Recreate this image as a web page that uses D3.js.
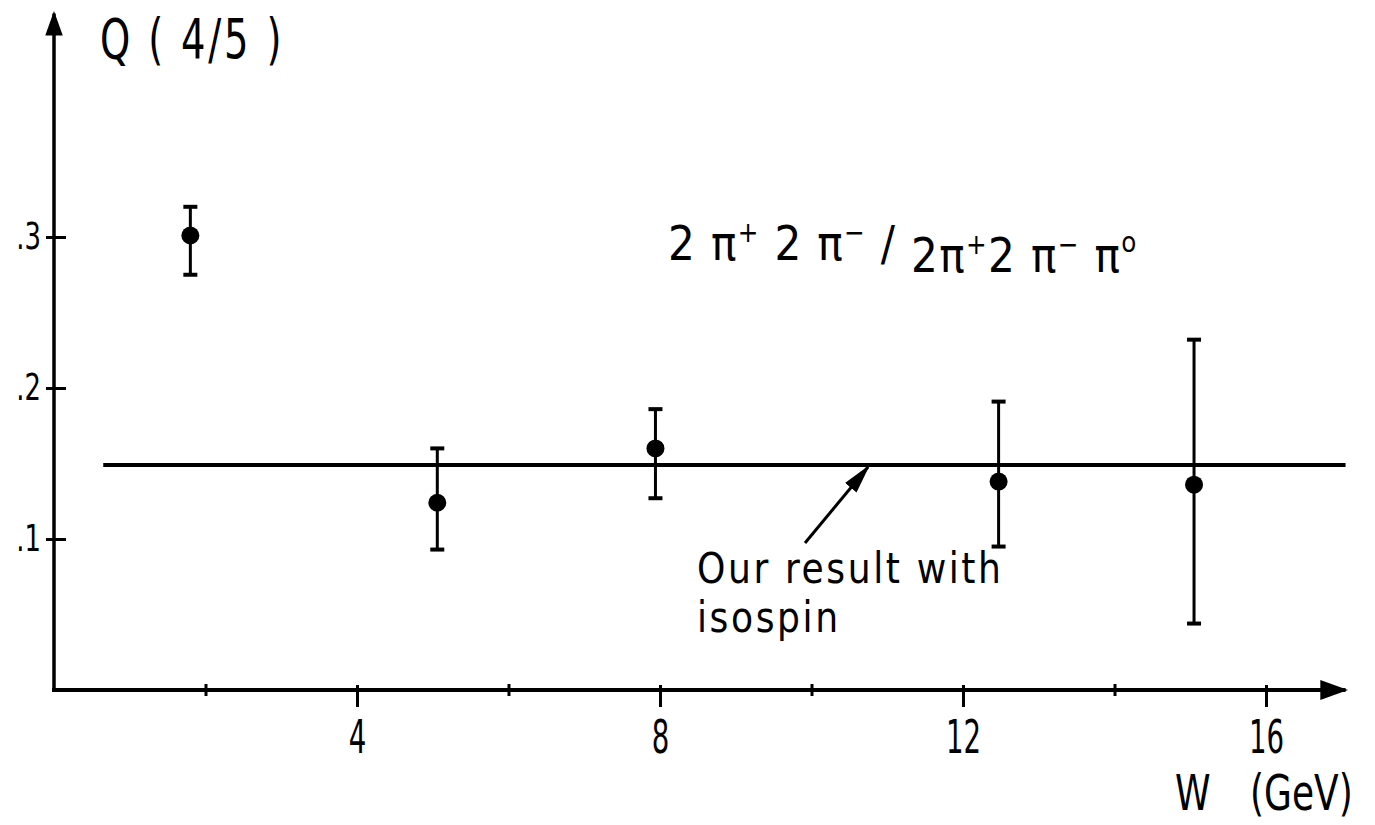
<!DOCTYPE html>
<html>
<head>
<meta charset="utf-8">
<script src="https://cdn.jsdelivr.net/npm/d3@7"></script>
<style>
  body { margin: 0; background: #fff; }
  text { font-family: "DejaVu Sans", sans-serif; fill: #000; }
</style>
</head>
<body>
<div class="chart"></div>
<script>
//Data
var wValues = [1.8, 5.06, 7.94, 12.47, 15.05];
var qValues = [0.301, 0.124, 0.160, 0.138, 0.136];
var qUpper = [0.320, 0.160, 0.186, 0.191, 0.232];
var qLower = [0.275, 0.093, 0.127, 0.095, 0.044];
var fitValue = 0.149;
var fitRange = [0.65, 17.05];
var xTicks = [2, 4, 6, 8, 10, 12, 14, 16];
var xLabels = [4, 8, 12, 16];
var yTicks = [0.1, 0.2, 0.3];
var yLabels = [".1", ".2", ".3"];

var svgWidth = 1375;
var svgHeight = 825;

var svg = d3.select(".chart")
    .append("svg")
    .attr("width", svgWidth)
    .attr("height", svgHeight);

//Scales
var xScale = d3.scaleLinear().domain([0, 16]).range([54, 1266]);
var yScale = d3.scaleLinear().domain([0, 0.3]).range([690, 237]);

//narrow lettering like the stencil text of the original
function addText(x, y, size, sx, str, anchor) {
    return svg.append("text")
        .attr("transform", `translate(${x}, ${y}) scale(${sx}, 1)`)
        .attr("font-size", size)
        .attr("text-anchor", anchor || "start")
        .text(str);
}

//Arrow heads
var defs = svg.append("defs");
function addMarker(id, w, h) {
    defs.append("marker")
        .attr("id", id)
        .attr("viewBox", "0 0 10 10")
        .attr("preserveAspectRatio", "none")
        .attr("refX", 9).attr("refY", 5)
        .attr("markerWidth", w).attr("markerHeight", h)
        .attr("markerUnits", "strokeWidth")
        .attr("orient", "auto")
        .append("path")
        .attr("d", "M0,0 L10,5 L0,10 Z")
        .attr("fill", "#000");
}
addMarker("axisArrow", 7, 5);
addMarker("noteArrow", 10, 5);

//Axis lines with arrows
svg.append("line")
    .attr("x1", xScale(0) - 2).attr("y1", yScale(0))
    .attr("x2", xScale(17.05)).attr("y2", yScale(0))
    .attr("stroke", "#000").attr("stroke-width", 4)
    .attr("marker-end", "url(#axisArrow)");
svg.append("line")
    .attr("x1", xScale(0)).attr("y1", yScale(0) + 2)
    .attr("x2", xScale(0)).attr("y2", yScale(0.448))
    .attr("stroke", "#000").attr("stroke-width", 3.5)
    .attr("marker-end", "url(#axisArrow)");

//x axis ticks and labels
var bottomAxis = d3.axisBottom(xScale)
    .tickValues(xTicks)
    .tickFormat(d => xLabels.includes(d) ? d : "")
    .tickSize(0)
    .tickPadding(30);
var xAxisG = svg.append("g")
    .attr("transform", `translate(0, ${yScale(0)})`)
    .call(bottomAxis);
xAxisG.select(".domain").remove();
xAxisG.selectAll(".tick line")
    .attr("y1", d => xLabels.includes(d) ? -5 : -6)
    .attr("y2", d => xLabels.includes(d) ? 17 : 6)
    .attr("stroke", "#000")
    .attr("stroke-width", 3);
xAxisG.selectAll(".tick text")
    .attr("font-size", 46)
    .attr("font-family", null)
    .attr("transform", "scale(0.6, 1)")
    .attr("fill", "#000");

//y axis ticks and labels
var leftAxis = d3.axisLeft(yScale)
    .tickValues(yTicks)
    .tickFormat((d, i) => yLabels[i])
    .tickSize(0)
    .tickPadding(20);
var yAxisG = svg.append("g")
    .attr("transform", `translate(${xScale(0) + 1}, 0)`)
    .call(leftAxis);
yAxisG.select(".domain").remove();
yAxisG.selectAll(".tick line")
    .attr("x1", -9)
    .attr("x2", 11)
    .attr("stroke", "#000")
    .attr("stroke-width", 3);
yAxisG.selectAll(".tick text")
    .attr("font-size", 37)
    .attr("font-family", null)
    .attr("transform", "scale(0.7, 1)")
    .attr("fill", "#000");

//Axis titles
addText(100, 58, 55, 0.7, "Q ( 4/5 )")
    .attr("xml:space", "preserve")
    .attr("letter-spacing", 4);
addText(1175, 810, 50, 0.72, "W");
addText(1250, 810, 50, 0.72, "(GeV)");

//Fit line
svg.append("line")
    .attr("x1", xScale(fitRange[0])).attr("y1", yScale(fitValue))
    .attr("x2", xScale(fitRange[1])).attr("y2", yScale(fitValue))
    .attr("stroke", "#000").attr("stroke-width", 4);

//Error bars
var points = wValues.map((w, i) => ({w: w, q: qValues[i], hi: qUpper[i], lo: qLower[i]}));
var bars = svg.selectAll(".err").data(points).enter().append("g").attr("class", "err");
bars.append("line")
    .attr("x1", d => xScale(d.w)).attr("x2", d => xScale(d.w))
    .attr("y1", d => yScale(d.hi)).attr("y2", d => yScale(d.lo))
    .attr("stroke", "#000").attr("stroke-width", 3);
bars.selectAll(".cap").data(d => [[d.w, d.hi], [d.w, d.lo]]).enter().append("line")
    .attr("x1", d => xScale(d[0]) - 7).attr("x2", d => xScale(d[0]) + 7)
    .attr("y1", d => yScale(d[1])).attr("y2", d => yScale(d[1]))
    .attr("stroke", "#000").attr("stroke-width", 4);

//Data points
svg.selectAll("circle").data(points).enter().append("circle")
    .attr("cx", d => xScale(d.w))
    .attr("cy", d => yScale(d.q))
    .attr("r", 9)
    .attr("fill", "#000");

//Reaction label
var formula = svg.append("text")
    .attr("transform", "translate(668, 260) scale(0.88, 1)")
    .attr("font-size", 48)
    .attr("letter-spacing", 1.5)
    .attr("xml:space", "preserve");
formula.append("tspan").text("2 π");
formula.append("tspan").attr("font-size", 28).attr("dy", -18).text("+");
formula.append("tspan").attr("dy", 18).text(" 2 π");
formula.append("tspan").attr("font-size", 28).attr("dy", -18).text("−");
formula.append("tspan").attr("dy", 18).text(" /");
formula.append("tspan").attr("dy", 12).text(" 2π");
formula.append("tspan").attr("font-size", 28).attr("dy", -18).text("+");
formula.append("tspan").attr("dy", 18).text("2 π");
formula.append("tspan").attr("font-size", 28).attr("dy", -18).text("−");
formula.append("tspan").attr("dy", 18).text(" π");
formula.append("tspan").attr("font-size", 28).attr("dy", -20).text("o");

//Annotation
svg.append("line")
    .attr("x1", 805).attr("y1", 543)
    .attr("x2", 868).attr("y2", 467)
    .attr("stroke", "#000").attr("stroke-width", 3)
    .attr("marker-end", "url(#noteArrow)");
addText(697, 583, 42, 0.86, "Our result with").attr("letter-spacing", 3);
addText(697, 632, 42, 0.86, "isospin").attr("letter-spacing", 3);
</script>
</body>
</html>
